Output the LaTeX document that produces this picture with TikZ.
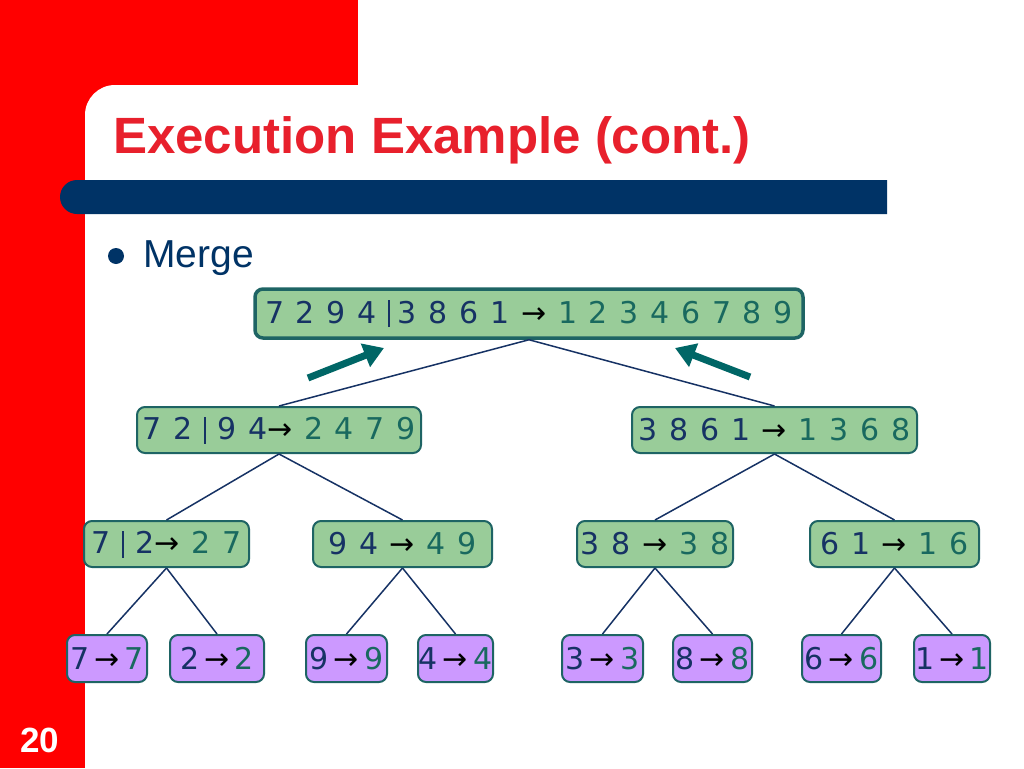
\documentclass[tikz,border=0pt]{standalone}
\usepackage{fontspec}
\setmainfont{Liberation Sans}
\newfontfamily\nf[WordSpace=1.23]{DejaVu Sans}
\usetikzlibrary{arrows.meta}
\definecolor{bgred}{RGB}{255,0,0}
\definecolor{titlered}{RGB}{232,32,44}
\definecolor{barnavy}{RGB}{0,51,102}
\definecolor{boxgreen}{RGB}{153,204,153}
\definecolor{boxpurple}{RGB}{204,153,255}
\definecolor{boxline}{RGB}{30,100,100}
\definecolor{lnavy}{RGB}{22,50,100}
\definecolor{rteal}{RGB}{25,105,95}
\definecolor{arrteal}{RGB}{0,102,102}
\newcommand{\ltxt}[1]{{\color{lnavy}#1}}
\newcommand{\rtxt}[1]{{\color{rteal}#1}}
\newcommand{\arr}{{\color{black}→}}
\newcommand{\sepbar}{{\color{lnavy}\rule[-4pt]{1.4pt}{27pt}}}
\begin{document}
\begin{tikzpicture}[x=1pt,y=-1pt,
  box/.style={draw=boxline, line width=2pt, rounded corners=8pt, fill=boxgreen,
    minimum height=46pt, inner sep=0pt, font=\nf\fontsize{30}{34}\selectfont},
  leaf/.style={box, fill=boxpurple, minimum height=47pt},
  edge/.style={draw=lnavy, line width=1.5pt},
  bigarr/.style={draw=arrteal, line width=7pt, -{Triangle[width=24pt,length=20pt]}}]
\useasboundingbox (0,0) rectangle (1024,768);
% background
\fill[bgred] (0,0) rectangle (1024,768);
\fill[white] (358,0) rectangle (1024,85);
\fill[white] (85,768) -- (85,115) arc[start angle=180,end angle=270,radius=30] -- (1024,85) -- (1024,768) -- cycle;
\fill[barnavy] (887,180) -- (77,180) arc[start angle=270,end angle=90,radius=17] -- (887,214) -- cycle;
% title
\node[anchor=base west, inner sep=0pt, text=titlered, font=\bfseries\fontsize{51}{60}\selectfont] (title) at (113,153) {Execution Example (cont.)};
\node[anchor=base west, inner sep=0pt, text=white, font=\bfseries\fontsize{35}{40}\selectfont] (pg) at (20,752) {20};
\fill[barnavy] (116,256) circle[radius=8];
\node[anchor=base west, inner sep=0pt, text=barnavy, font=\fontsize{39}{44}\selectfont] (merge) at (143,267) {Merge};
% nodes
\node[box, line width=3.5pt, minimum width=548pt, minimum height=49pt] (top) at (529,313.5)
  {\ltxt{7 2 9 4} \sepbar\hspace{8pt}\ltxt{3 8 6 1} \arr{} \rtxt{1 2 3 4 6 7 8 9}};
\node[box, minimum width=284pt] (a) at (279,430) {\ltxt{7 2} \sepbar{} \ltxt{9 4}\arr{} \rtxt{2 4 7 9}};
\node[box, minimum width=285pt] (b) at (774.5,430) {\ltxt{3 8 6 1} \arr{} \rtxt{1 3 6 8}};
\node[box, minimum width=165pt] (aa) at (166.5,544) {\ltxt{7} \sepbar{} \ltxt{2}\arr{} \rtxt{2 7}};
\node[box, minimum width=179pt] (ab) at (402.5,544) {\ltxt{9 4} \arr{} \rtxt{4 9}};
\node[box, minimum width=156pt] (ba) at (655,544) {\ltxt{3 8} \arr{} \rtxt{3 8}};
\node[box, minimum width=169pt] (bb) at (894.5,544) {\ltxt{6 1} \arr{} \rtxt{1 6}};
\node[leaf, minimum width=80pt] (aaa) at (107,658.5) {\ltxt{7}\,\arr\,\rtxt{7}};
\node[leaf, minimum width=94pt] (aab) at (217,658.5) {\ltxt{2}\,\arr\,\rtxt{2}};
\node[leaf, minimum width=81pt] (aba) at (346.5,658.5) {\ltxt{9}\,\arr\,\rtxt{9}};
\node[leaf, minimum width=75pt] (abb) at (455.5,658.5) {\ltxt{4}\,\arr\,\rtxt{4}};
\node[leaf, minimum width=81pt] (baa) at (602.5,658.5) {\ltxt{3}\,\arr\,\rtxt{3}};
\node[leaf, minimum width=79pt] (bab) at (712.5,658.5) {\ltxt{8}\,\arr\,\rtxt{8}};
\node[leaf, minimum width=79pt] (bba) at (841.5,658.5) {\ltxt{6}\,\arr\,\rtxt{6}};
\node[leaf, minimum width=76pt] (bbb) at (952,658.5) {\ltxt{1}\,\arr\,\rtxt{1}};
% edges
\draw[edge] (top.south) -- (a.north);
\draw[edge] (top.south) -- (b.north);
\draw[edge] (a.south) -- (aa.north);
\draw[edge] (a.south) -- (ab.north);
\draw[edge] (b.south) -- (ba.north);
\draw[edge] (b.south) -- (bb.north);
\draw[edge] (aa.south) -- (aaa.north);
\draw[edge] (aa.south) -- (aab.north);
\draw[edge] (ab.south) -- (aba.north);
\draw[edge] (ab.south) -- (abb.north);
\draw[edge] (ba.south) -- (baa.north);
\draw[edge] (ba.south) -- (bab.north);
\draw[edge] (bb.south) -- (bba.north);
\draw[edge] (bb.south) -- (bbb.north);
% thick arrows
\coordinate (p1) at (308,378);
\coordinate (q1) at (384,348);
\coordinate (p2) at (750,377);
\coordinate (q2) at (675,348);
\draw[bigarr] (p1) -- (q1);
\draw[bigarr] (p2) -- (q2);
\end{tikzpicture}
\end{document}
